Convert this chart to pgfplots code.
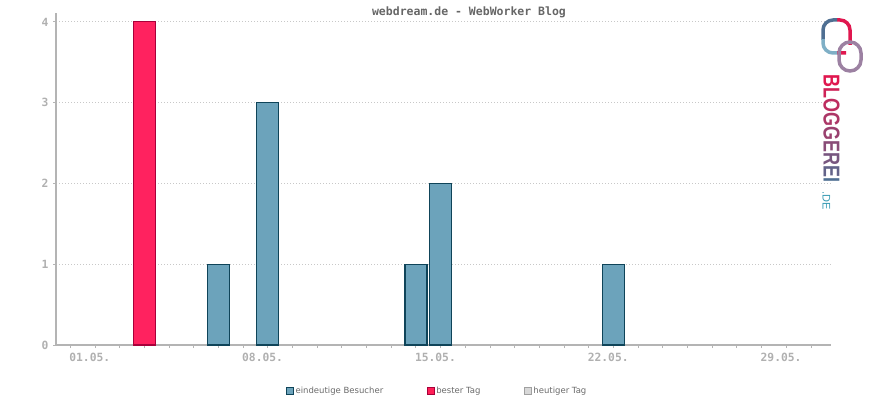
\documentclass[border=0pt]{standalone}
\usepackage{pgfplots}
\pgfplotsset{compat=1.18}
\usepackage{fontspec}
\setmainfont{DejaVu Sans}
\newfontfamily\monofont{DejaVu Sans Mono}
\newfontfamily\logofont{Liberation Sans}

\definecolor{barblue}{HTML}{6CA3BB}
\definecolor{edgeblue}{HTML}{0F4459}
\definecolor{barred}{HTML}{FF225F}
\definecolor{edgered}{HTML}{A8003A}
\definecolor{axisgray}{HTML}{B4B4B4}
\definecolor{gridgray}{HTML}{C8C8C8}
\definecolor{ticktext}{HTML}{B0B0B0}
\definecolor{titlegray}{HTML}{666666}
\definecolor{legendtext}{HTML}{6A6A6A}
\definecolor{todayfill}{HTML}{D8D8D8}
\definecolor{todayedge}{HTML}{A0A0A0}
\definecolor{logored}{HTML}{E0174F}
\definecolor{logoblue}{HTML}{4F6F92}
\definecolor{logolight}{HTML}{7FAFC6}

% days of May with unique visitors
\pgfplotstableread{
day visitors
7   1
9   3
15  1
16  2
23  1
}\visitors

\begin{document}
\begin{tikzpicture}[x=1pt,y=1pt]
\useasboundingbox (0,0) rectangle (870,400);
\begin{axis}[
    at={(56pt,55pt)}, anchor=south west,
    scale only axis, width=775pt, height=332pt,
    xmin=0.42, xmax=31.81, ymin=0, ymax=4.11,
    axis x line*=bottom, axis y line*=left,
    axis line style={draw=axisgray, line width=2pt, -},
    xtick={1,...,31},
    xticklabels={01.05.,,,,,,,08.05.,,,,,,,15.05.,,,,,,,22.05.,,,,,,,29.05.,,},
    ytick={0,1,2,3,4},
    tick align=outside,
    major tick length=3pt,
    tick style={draw=axisgray, line width=1pt},
    ymajorgrids,
    grid style={draw=gridgray, line width=0.8pt, dash pattern=on 1pt off 2pt},
    tick label style={font=\monofont\bfseries\fontsize{11.3}{12}\selectfont, text=ticktext},
    /pgf/number format/assume math mode=true,
    xticklabel style={anchor=north west, xshift=-4.5pt, yshift=-2pt},
    yticklabel style={anchor=east, xshift=-1pt},
    title={webdream.de - WebWorker Blog},
    every axis title shift=0pt,
    title style={at={(0.5,1)}, anchor=center, xshift=25.5pt, yshift=1pt,
        font=\monofont\bfseries\fontsize{11.5}{12}\selectfont, text=titlegray},
    legend columns=3,
    legend style={at={(0.4916,-0.1386)}, anchor=center, draw=none, fill=none,
        font=\fontsize{8.5}{10}\selectfont, text=legendtext,
        nodes={inner sep=1.5pt},
        /tikz/every even column/.append style={column sep=42pt}},
]
\addplot[ybar, bar width=22pt, bar shift=0pt, fill=barblue, draw=edgeblue, line width=1.1pt,
    legend image code/.code={\draw[fill=barblue, draw=edgeblue, line width=1pt] (0pt,-3.5pt) rectangle (7pt,3.5pt);}]
    table[x=day, y=visitors] {\visitors};
\addlegendentry{eindeutige Besucher}
\addplot[ybar, bar width=22pt, bar shift=0pt, fill=barred, draw=edgered, line width=1.1pt,
    legend image code/.code={\draw[fill=barred!90!red, draw=edgered, line width=1pt] (0pt,-3.5pt) rectangle (7pt,3.5pt);}]
    coordinates {(4,4)};
\addlegendentry{bester Tag}
\addlegendimage{legend image code/.code={\draw[fill=todayfill, draw=todayedge, line width=1pt] (0pt,-3.5pt) rectangle (7pt,3.5pt);}}
\addlegendentry{heutiger Tag}
\end{axis}
% logo
\def\arch{(850,355) -- (850,380) -- (823,380) -- (823,347) -- (846,347)}
\begin{scope}
  \clip (837,300) rectangle (870,400);
  \draw[line width=3.5pt, color=logored, rounded corners=10pt] \arch;
\end{scope}
\begin{scope}
  \clip (800,360) rectangle (837,400);
  \draw[line width=3.5pt, color=logoblue, rounded corners=10pt] \arch;
\end{scope}
\begin{scope}
  \clip (800,300) rectangle (837,360);
  \draw[line width=3.5pt, color=logolight, rounded corners=10pt] \arch;
\end{scope}
\draw[line width=3.5pt, color=logolight!70!logored, rounded corners=11pt] (839,358) rectangle (861,329);
\node[rotate=-90, inner sep=0pt] at (831.5,271.5) {\scalebox{0.78}[1]{\logofont\bfseries\fontsize{23}{23}\selectfont
    \textcolor{logored}{B}\textcolor{logored!88!logoblue}{L}\textcolor{logored!76!logoblue}{O}\textcolor{logored!64!logoblue}{G}\textcolor{logored!52!logoblue}{G}\textcolor{logored!40!logoblue}{E}\textcolor{logored!28!logoblue}{R}\textcolor{logored!14!logoblue}{E}\textcolor{logoblue}{I}}};
\node[rotate=-90, inner sep=0pt, text=logoblue!70!cyan] at (826.5,199) {\logofont\fontsize{11}{11}\selectfont .DE};
\end{tikzpicture}
\end{document}
